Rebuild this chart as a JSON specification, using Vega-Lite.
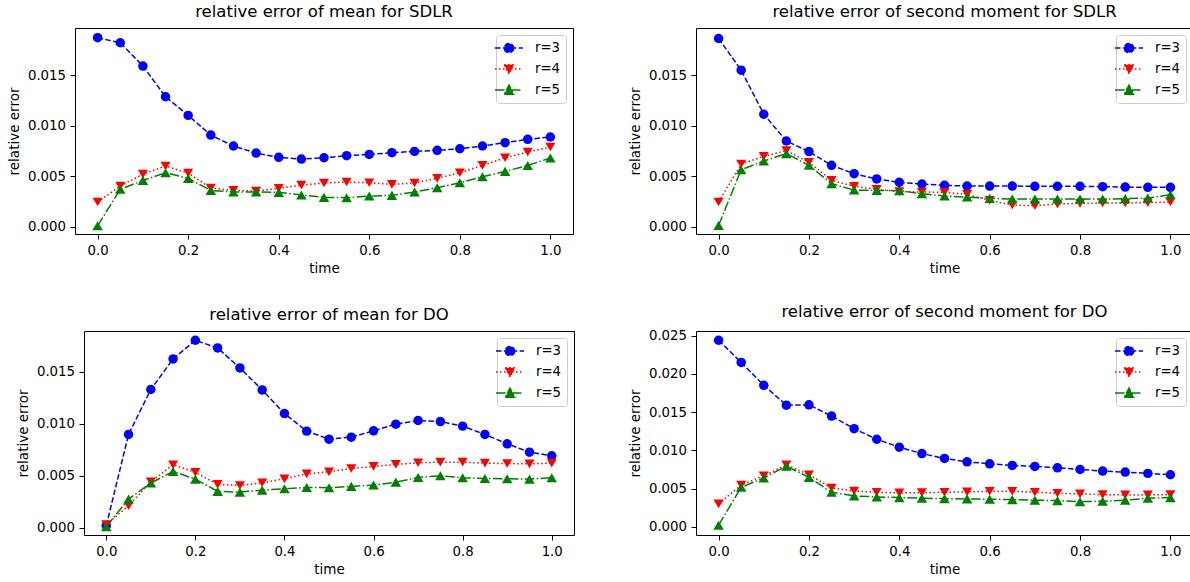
{
  "$schema": "https://vega.github.io/schema/vega-lite/v6.json",
  "background": "white",
  "padding": {"left": 6, "top": 3, "right": 0, "bottom": 0},
  "config": {
    "font": "DejaVu Sans",
    "view": {"stroke": "black", "strokeWidth": 1},
    "axis": {"domain": false, "grid": false, "ticks": true, "tickColor": "black", "tickSize": 5, "tickWidth": 1, "labelFontSize": 13.3, "labelColor": "black", "labelFont": "DejaVu Sans", "titleFont": "DejaVu Sans", "titleFontSize": 13.5, "titleFontWeight": "normal", "titleColor": "black", "labelPadding": 4.5},
    "axisX": {"titlePadding": 5},
    "axisY": {"titlePadding": 5.7},
    "title": {"fontSize": 16.5, "fontWeight": "normal", "color": "black", "font": "DejaVu Sans", "offset": 8, "baseline": "alphabetic"},
    "legend": {"title": null, "orient": "top-right", "offset": 7, "fillColor": "rgba(255,255,255,0.8)", "strokeColor": "#cccccc", "cornerRadius": 3, "padding": 5, "labelFontSize": 13.3, "labelFont": "DejaVu Sans", "labelColor": "black", "symbolSize": 196, "labelOffset": 18, "rowPadding": 5, "symbolStrokeWidth": 1.5}
  },
  "datasets": {
    "p1": [
      {"t":0,"r":"r=3","v":0.01869},{"t":0.05,"r":"r=3","v":0.01819},{"t":0.1,"r":"r=3","v":0.01589},{"t":0.15,"r":"r=3","v":0.01285},{"t":0.2,"r":"r=3","v":0.01101},{"t":0.25,"r":"r=3","v":0.00906},{"t":0.3,"r":"r=3","v":0.00798},{"t":0.35,"r":"r=3","v":0.00728},{"t":0.4,"r":"r=3","v":0.00686},{"t":0.45,"r":"r=3","v":0.00669},{"t":0.5,"r":"r=3","v":0.00682},{"t":0.55,"r":"r=3","v":0.00702},{"t":0.6,"r":"r=3","v":0.00715},{"t":0.65,"r":"r=3","v":0.00732},{"t":0.7,"r":"r=3","v":0.00745},{"t":0.75,"r":"r=3","v":0.00755},{"t":0.8,"r":"r=3","v":0.00771},{"t":0.85,"r":"r=3","v":0.00798},{"t":0.9,"r":"r=3","v":0.00831},{"t":0.95,"r":"r=3","v":0.00864},{"t":1,"r":"r=3","v":0.00887},
      {"t":0,"r":"r=4","v":0.00244},{"t":0.05,"r":"r=4","v":0.00402},{"t":0.1,"r":"r=4","v":0.0052},{"t":0.15,"r":"r=4","v":0.006},{"t":0.2,"r":"r=4","v":0.0053},{"t":0.25,"r":"r=4","v":0.00382},{"t":0.3,"r":"r=4","v":0.0036},{"t":0.35,"r":"r=4","v":0.00353},{"t":0.4,"r":"r=4","v":0.00379},{"t":0.45,"r":"r=4","v":0.00412},{"t":0.5,"r":"r=4","v":0.00432},{"t":0.55,"r":"r=4","v":0.00442},{"t":0.6,"r":"r=4","v":0.00435},{"t":0.65,"r":"r=4","v":0.00419},{"t":0.7,"r":"r=4","v":0.00432},{"t":0.75,"r":"r=4","v":0.00478},{"t":0.8,"r":"r=4","v":0.00534},{"t":0.85,"r":"r=4","v":0.00606},{"t":0.9,"r":"r=4","v":0.00682},{"t":0.95,"r":"r=4","v":0.00738},{"t":1,"r":"r=4","v":0.00788},
      {"t":0,"r":"r=5","v":0.0001},{"t":0.05,"r":"r=5","v":0.0037},{"t":0.1,"r":"r=5","v":0.00458},{"t":0.15,"r":"r=5","v":0.00534},{"t":0.2,"r":"r=5","v":0.00478},{"t":0.25,"r":"r=5","v":0.00359},{"t":0.3,"r":"r=5","v":0.00343},{"t":0.35,"r":"r=5","v":0.00343},{"t":0.4,"r":"r=5","v":0.0034},{"t":0.45,"r":"r=5","v":0.00313},{"t":0.5,"r":"r=5","v":0.0029},{"t":0.55,"r":"r=5","v":0.00287},{"t":0.6,"r":"r=5","v":0.00303},{"t":0.65,"r":"r=5","v":0.0031},{"t":0.7,"r":"r=5","v":0.00343},{"t":0.75,"r":"r=5","v":0.00386},{"t":0.8,"r":"r=5","v":0.00435},{"t":0.85,"r":"r=5","v":0.00494},{"t":0.9,"r":"r=5","v":0.00547},{"t":0.95,"r":"r=5","v":0.00606},{"t":1,"r":"r=5","v":0.00679}
    ],
    "p2": [
      {"t":0,"r":"r=3","v":0.01864},{"t":0.05,"r":"r=3","v":0.0155},{"t":0.1,"r":"r=3","v":0.01114},{"t":0.15,"r":"r=3","v":0.00849},{"t":0.2,"r":"r=3","v":0.00744},{"t":0.25,"r":"r=3","v":0.00608},{"t":0.3,"r":"r=3","v":0.00525},{"t":0.35,"r":"r=3","v":0.00473},{"t":0.4,"r":"r=3","v":0.0044},{"t":0.45,"r":"r=3","v":0.00423},{"t":0.5,"r":"r=3","v":0.0041},{"t":0.55,"r":"r=3","v":0.00403},{"t":0.6,"r":"r=3","v":0.00403},{"t":0.65,"r":"r=3","v":0.00403},{"t":0.7,"r":"r=3","v":0.004},{"t":0.75,"r":"r=3","v":0.004},{"t":0.8,"r":"r=3","v":0.004},{"t":0.85,"r":"r=3","v":0.00397},{"t":0.9,"r":"r=3","v":0.00393},{"t":0.95,"r":"r=3","v":0.0039},{"t":1,"r":"r=3","v":0.0039},
      {"t":0,"r":"r=4","v":0.00245},{"t":0.05,"r":"r=4","v":0.00621},{"t":0.1,"r":"r=4","v":0.00697},{"t":0.15,"r":"r=4","v":0.00753},{"t":0.2,"r":"r=4","v":0.00638},{"t":0.25,"r":"r=4","v":0.00459},{"t":0.3,"r":"r=4","v":0.004},{"t":0.35,"r":"r=4","v":0.0037},{"t":0.4,"r":"r=4","v":0.00347},{"t":0.45,"r":"r=4","v":0.00344},{"t":0.5,"r":"r=4","v":0.0034},{"t":0.55,"r":"r=4","v":0.0032},{"t":0.6,"r":"r=4","v":0.00261},{"t":0.65,"r":"r=4","v":0.00215},{"t":0.7,"r":"r=4","v":0.00208},{"t":0.75,"r":"r=4","v":0.00225},{"t":0.8,"r":"r=4","v":0.00231},{"t":0.85,"r":"r=4","v":0.00235},{"t":0.9,"r":"r=4","v":0.00235},{"t":0.95,"r":"r=4","v":0.00238},{"t":1,"r":"r=4","v":0.00245},
      {"t":0,"r":"r=5","v":0.00013},{"t":0.05,"r":"r=5","v":0.00565},{"t":0.1,"r":"r=5","v":0.00651},{"t":0.15,"r":"r=5","v":0.00724},{"t":0.2,"r":"r=5","v":0.00608},{"t":0.25,"r":"r=5","v":0.00426},{"t":0.3,"r":"r=5","v":0.00363},{"t":0.35,"r":"r=5","v":0.0036},{"t":0.4,"r":"r=5","v":0.00357},{"t":0.45,"r":"r=5","v":0.00327},{"t":0.5,"r":"r=5","v":0.00304},{"t":0.55,"r":"r=5","v":0.00294},{"t":0.6,"r":"r=5","v":0.00281},{"t":0.65,"r":"r=5","v":0.00274},{"t":0.7,"r":"r=5","v":0.00274},{"t":0.75,"r":"r=5","v":0.00274},{"t":0.8,"r":"r=5","v":0.00274},{"t":0.85,"r":"r=5","v":0.00274},{"t":0.9,"r":"r=5","v":0.00278},{"t":0.95,"r":"r=5","v":0.00284},{"t":1,"r":"r=5","v":0.00317}
    ],
    "p3": [
      {"t":0,"r":"r=3","v":0.0002},{"t":0.05,"r":"r=3","v":0.00896},{"t":0.1,"r":"r=3","v":0.01328},{"t":0.15,"r":"r=3","v":0.01622},{"t":0.2,"r":"r=3","v":0.01801},{"t":0.25,"r":"r=3","v":0.01727},{"t":0.3,"r":"r=3","v":0.01535},{"t":0.35,"r":"r=3","v":0.01324},{"t":0.4,"r":"r=3","v":0.01097},{"t":0.45,"r":"r=3","v":0.00928},{"t":0.5,"r":"r=3","v":0.00851},{"t":0.55,"r":"r=3","v":0.0087},{"t":0.6,"r":"r=3","v":0.00931},{"t":0.65,"r":"r=3","v":0.00995},{"t":0.7,"r":"r=3","v":0.0103},{"t":0.75,"r":"r=3","v":0.0102},{"t":0.8,"r":"r=3","v":0.00976},{"t":0.85,"r":"r=3","v":0.00896},{"t":0.9,"r":"r=3","v":0.00806},{"t":0.95,"r":"r=3","v":0.00726},{"t":1,"r":"r=3","v":0.00691},
      {"t":0,"r":"r=4","v":0.0003},{"t":0.05,"r":"r=4","v":0.00211},{"t":0.1,"r":"r=4","v":0.00441},{"t":0.15,"r":"r=4","v":0.00605},{"t":0.2,"r":"r=4","v":0.00531},{"t":0.25,"r":"r=4","v":0.00416},{"t":0.3,"r":"r=4","v":0.00406},{"t":0.35,"r":"r=4","v":0.00432},{"t":0.4,"r":"r=4","v":0.0047},{"t":0.45,"r":"r=4","v":0.00518},{"t":0.5,"r":"r=4","v":0.00537},{"t":0.55,"r":"r=4","v":0.00569},{"t":0.6,"r":"r=4","v":0.00589},{"t":0.65,"r":"r=4","v":0.00608},{"t":0.7,"r":"r=4","v":0.00624},{"t":0.75,"r":"r=4","v":0.0063},{"t":0.8,"r":"r=4","v":0.0063},{"t":0.85,"r":"r=4","v":0.0062},{"t":0.9,"r":"r=4","v":0.00617},{"t":0.95,"r":"r=4","v":0.00614},{"t":1,"r":"r=4","v":0.0062},
      {"t":0,"r":"r=5","v":0.0001},{"t":0.05,"r":"r=5","v":0.00275},{"t":0.1,"r":"r=5","v":0.00429},{"t":0.15,"r":"r=5","v":0.00541},{"t":0.2,"r":"r=5","v":0.00467},{"t":0.25,"r":"r=5","v":0.00349},{"t":0.3,"r":"r=5","v":0.00342},{"t":0.35,"r":"r=5","v":0.00361},{"t":0.4,"r":"r=5","v":0.00374},{"t":0.45,"r":"r=5","v":0.00387},{"t":0.5,"r":"r=5","v":0.00384},{"t":0.55,"r":"r=5","v":0.00397},{"t":0.6,"r":"r=5","v":0.0041},{"t":0.65,"r":"r=5","v":0.00438},{"t":0.7,"r":"r=5","v":0.00483},{"t":0.75,"r":"r=5","v":0.00499},{"t":0.8,"r":"r=5","v":0.0048},{"t":0.85,"r":"r=5","v":0.00473},{"t":0.9,"r":"r=5","v":0.0047},{"t":0.95,"r":"r=5","v":0.00467},{"t":1,"r":"r=5","v":0.0048}
    ],
    "p4": [
      {"t":0,"r":"r=3","v":0.02439},{"t":0.05,"r":"r=3","v":0.02149},{"t":0.1,"r":"r=3","v":0.0185},{"t":0.15,"r":"r=3","v":0.0159},{"t":0.2,"r":"r=3","v":0.01595},{"t":0.25,"r":"r=3","v":0.01447},{"t":0.3,"r":"r=3","v":0.01282},{"t":0.35,"r":"r=3","v":0.01144},{"t":0.4,"r":"r=3","v":0.0104},{"t":0.45,"r":"r=3","v":0.00957},{"t":0.5,"r":"r=3","v":0.00893},{"t":0.55,"r":"r=3","v":0.00849},{"t":0.6,"r":"r=3","v":0.00823},{"t":0.65,"r":"r=3","v":0.00802},{"t":0.7,"r":"r=3","v":0.00789},{"t":0.75,"r":"r=3","v":0.00771},{"t":0.8,"r":"r=3","v":0.0075},{"t":0.85,"r":"r=3","v":0.00728},{"t":0.9,"r":"r=3","v":0.00715},{"t":0.95,"r":"r=3","v":0.00698},{"t":1,"r":"r=3","v":0.0068},
      {"t":0,"r":"r=4","v":0.00299},{"t":0.05,"r":"r=4","v":0.00546},{"t":0.1,"r":"r=4","v":0.00667},{"t":0.15,"r":"r=4","v":0.0081},{"t":0.2,"r":"r=4","v":0.0068},{"t":0.25,"r":"r=4","v":0.00507},{"t":0.3,"r":"r=4","v":0.00468},{"t":0.35,"r":"r=4","v":0.00451},{"t":0.4,"r":"r=4","v":0.00442},{"t":0.45,"r":"r=4","v":0.00446},{"t":0.5,"r":"r=4","v":0.00451},{"t":0.55,"r":"r=4","v":0.00455},{"t":0.6,"r":"r=4","v":0.00464},{"t":0.65,"r":"r=4","v":0.00464},{"t":0.7,"r":"r=4","v":0.00451},{"t":0.75,"r":"r=4","v":0.00438},{"t":0.8,"r":"r=4","v":0.00429},{"t":0.85,"r":"r=4","v":0.0042},{"t":0.9,"r":"r=4","v":0.00416},{"t":0.95,"r":"r=4","v":0.00416},{"t":1,"r":"r=4","v":0.0042},
      {"t":0,"r":"r=5","v":0.0002},{"t":0.05,"r":"r=5","v":0.00516},{"t":0.1,"r":"r=5","v":0.00637},{"t":0.15,"r":"r=5","v":0.00793},{"t":0.2,"r":"r=5","v":0.00646},{"t":0.25,"r":"r=5","v":0.00451},{"t":0.3,"r":"r=5","v":0.00403},{"t":0.35,"r":"r=5","v":0.0039},{"t":0.4,"r":"r=5","v":0.00381},{"t":0.45,"r":"r=5","v":0.00373},{"t":0.5,"r":"r=5","v":0.00368},{"t":0.55,"r":"r=5","v":0.00364},{"t":0.6,"r":"r=5","v":0.0036},{"t":0.65,"r":"r=5","v":0.00355},{"t":0.7,"r":"r=5","v":0.00347},{"t":0.75,"r":"r=5","v":0.00342},{"t":0.8,"r":"r=5","v":0.00329},{"t":0.85,"r":"r=5","v":0.00334},{"t":0.9,"r":"r=5","v":0.00347},{"t":0.95,"r":"r=5","v":0.00373},{"t":1,"r":"r=5","v":0.00381}
    ]
  },
  "resolve": {"legend": {"color": "independent"}},
  "spacing": 27,
  "vconcat": [
    {
      "spacing": 0,
      "resolve": {"legend": {"color": "independent"}},
      "hconcat": [
        {"width": 1, "height": 1, "view": {"stroke": null}, "data": {"values": []}, "mark": "point"},
        {
          "spacing": 54,
          "resolve": {"legend": {"color": "independent"}},
          "hconcat": [
            {
              "title": "relative error of mean for SDLR",
              "width": 498, "height": 206,
              "data": {"name": "p1"},
              "encoding": {
                "x": {"field": "t", "type": "quantitative", "scale": {"domain": [-0.05, 1.05], "nice": false, "zero": false}, "axis": {"title": "time", "values": [0, 0.2, 0.4, 0.6, 0.8, 1], "format": ".1f"}},
                "y": {"field": "v", "type": "quantitative", "scale": {"domain": [-0.00072, 0.01965], "nice": false, "zero": false}, "axis": {"title": "relative error", "values": [0, 0.005, 0.01, 0.015], "format": ".3f"}},
                "color": {"field": "r", "type": "nominal", "scale": {"domain": ["r=3", "r=4", "r=5"], "range": ["#0000ff", "#ff0000", "#008000"]},
                  "legend": {"encode": {"symbols": {"update": {
                    "shape": {"signal": "datum.value === 'r=3' ? 'M-2,0H2M0.66,0A0.66,0.66,0,1,1,-0.66,0A0.66,0.66,0,1,1,0.66,0Z' : datum.value === 'r=4' ? 'M-2,0H2M-0.68,-0.62L0.68,-0.62L0,0.7Z' : 'M-2,0H2M-0.68,0.62L0.68,0.62L0,-0.7Z'"},
                    "strokeDash": {"signal": "datum.value === 'r=3' ? [5.5,2.4] : datum.value === 'r=4' ? [1.5,2.5] : [9.6,2.4,1.5,2.4]"},
                    "fill": {"signal": "datum.value === 'r=3' ? '#0000ff' : datum.value === 'r=4' ? '#ff0000' : '#008000'"},
                    "stroke": {"signal": "datum.value === 'r=3' ? '#0000ff' : datum.value === 'r=4' ? '#ff0000' : '#008000'"},
                    "fillOpacity": {"value": 1}, "opacity": {"value": 1}, "strokeWidth": {"value": 1.5}}}}}}
              },
              "layer": [
                {"mark": {"type": "line", "strokeWidth": 1.5}, "encoding": {"strokeDash": {"field": "r", "type": "nominal", "scale": {"domain": ["r=3", "r=4", "r=5"], "range": [[5.5, 2.4], [1.5, 2.5], [9.6, 2.4, 1.5, 2.4]]}, "legend": null}}},
                {"mark": {"type": "point", "filled": true, "opacity": 1}, "encoding": {"shape": {"field": "r", "type": "nominal", "scale": {"domain": ["r=3", "r=4", "r=5"], "range": ["circle", "triangle-down", "triangle-up"]}, "legend": null}, "size": {"field": "r", "type": "nominal", "scale": {"domain": ["r=3", "r=4", "r=5"], "range": [90, 110, 110]}, "legend": null}}}
              ]
            },
            {
              "title": "relative error of second moment for SDLR",
              "width": 497, "height": 206,
              "data": {"name": "p2"},
              "encoding": {
                "x": {"field": "t", "type": "quantitative", "scale": {"domain": [-0.05, 1.05], "nice": false, "zero": false}, "axis": {"title": "time", "values": [0, 0.2, 0.4, 0.6, 0.8, 1], "format": ".1f"}},
                "y": {"field": "v", "type": "quantitative", "scale": {"domain": [-0.00072, 0.01968], "nice": false, "zero": false}, "axis": {"title": "relative error", "values": [0, 0.005, 0.01, 0.015], "format": ".3f"}},
                "color": {"field": "r", "type": "nominal", "scale": {"domain": ["r=3", "r=4", "r=5"], "range": ["#0000ff", "#ff0000", "#008000"]},
                  "legend": {"encode": {"symbols": {"update": {
                    "shape": {"signal": "datum.value === 'r=3' ? 'M-2,0H2M0.66,0A0.66,0.66,0,1,1,-0.66,0A0.66,0.66,0,1,1,0.66,0Z' : datum.value === 'r=4' ? 'M-2,0H2M-0.68,-0.62L0.68,-0.62L0,0.7Z' : 'M-2,0H2M-0.68,0.62L0.68,0.62L0,-0.7Z'"},
                    "strokeDash": {"signal": "datum.value === 'r=3' ? [5.5,2.4] : datum.value === 'r=4' ? [1.5,2.5] : [9.6,2.4,1.5,2.4]"},
                    "fill": {"signal": "datum.value === 'r=3' ? '#0000ff' : datum.value === 'r=4' ? '#ff0000' : '#008000'"},
                    "stroke": {"signal": "datum.value === 'r=3' ? '#0000ff' : datum.value === 'r=4' ? '#ff0000' : '#008000'"},
                    "fillOpacity": {"value": 1}, "opacity": {"value": 1}, "strokeWidth": {"value": 1.5}}}}}}
              },
              "layer": [
                {"mark": {"type": "line", "strokeWidth": 1.5}, "encoding": {"strokeDash": {"field": "r", "type": "nominal", "scale": {"domain": ["r=3", "r=4", "r=5"], "range": [[5.5, 2.4], [1.5, 2.5], [9.6, 2.4, 1.5, 2.4]]}, "legend": null}}},
                {"mark": {"type": "point", "filled": true, "opacity": 1}, "encoding": {"shape": {"field": "r", "type": "nominal", "scale": {"domain": ["r=3", "r=4", "r=5"], "range": ["circle", "triangle-down", "triangle-up"]}, "legend": null}, "size": {"field": "r", "type": "nominal", "scale": {"domain": ["r=3", "r=4", "r=5"], "range": [90, 110, 110]}, "legend": null}}}
              ]
            }
          ]
        }
      ]
    },
    {
      "spacing": 0,
      "resolve": {"legend": {"color": "independent"}},
      "hconcat": [
        {"width": 10, "height": 1, "view": {"stroke": null}, "data": {"values": []}, "mark": "point"},
        {
          "spacing": 53,
          "resolve": {"legend": {"color": "independent"}},
          "hconcat": [
            {
              "title": "relative error of mean for DO",
              "width": 490, "height": 204,
              "data": {"name": "p3"},
              "encoding": {
                "x": {"field": "t", "type": "quantitative", "scale": {"domain": [-0.05, 1.05], "nice": false, "zero": false}, "axis": {"title": "time", "values": [0, 0.2, 0.4, 0.6, 0.8, 1], "format": ".1f"}},
                "y": {"field": "v", "type": "quantitative", "scale": {"domain": [-0.0007, 0.0189], "nice": false, "zero": false}, "axis": {"title": "relative error", "values": [0, 0.005, 0.01, 0.015], "format": ".3f"}},
                "color": {"field": "r", "type": "nominal", "scale": {"domain": ["r=3", "r=4", "r=5"], "range": ["#0000ff", "#ff0000", "#008000"]},
                  "legend": {"encode": {"symbols": {"update": {
                    "shape": {"signal": "datum.value === 'r=3' ? 'M-2,0H2M0.66,0A0.66,0.66,0,1,1,-0.66,0A0.66,0.66,0,1,1,0.66,0Z' : datum.value === 'r=4' ? 'M-2,0H2M-0.68,-0.62L0.68,-0.62L0,0.7Z' : 'M-2,0H2M-0.68,0.62L0.68,0.62L0,-0.7Z'"},
                    "strokeDash": {"signal": "datum.value === 'r=3' ? [5.5,2.4] : datum.value === 'r=4' ? [1.5,2.5] : [9.6,2.4,1.5,2.4]"},
                    "fill": {"signal": "datum.value === 'r=3' ? '#0000ff' : datum.value === 'r=4' ? '#ff0000' : '#008000'"},
                    "stroke": {"signal": "datum.value === 'r=3' ? '#0000ff' : datum.value === 'r=4' ? '#ff0000' : '#008000'"},
                    "fillOpacity": {"value": 1}, "opacity": {"value": 1}, "strokeWidth": {"value": 1.5}}}}}}
              },
              "layer": [
                {"mark": {"type": "line", "strokeWidth": 1.5}, "encoding": {"strokeDash": {"field": "r", "type": "nominal", "scale": {"domain": ["r=3", "r=4", "r=5"], "range": [[5.5, 2.4], [1.5, 2.5], [9.6, 2.4, 1.5, 2.4]]}, "legend": null}}},
                {"mark": {"type": "point", "filled": true, "opacity": 1}, "encoding": {"shape": {"field": "r", "type": "nominal", "scale": {"domain": ["r=3", "r=4", "r=5"], "range": ["circle", "triangle-down", "triangle-up"]}, "legend": null}, "size": {"field": "r", "type": "nominal", "scale": {"domain": ["r=3", "r=4", "r=5"], "range": [90, 110, 110]}, "legend": null}}}
              ]
            },
            {
              "title": "relative error of second moment for DO",
              "width": 497, "height": 204,
              "data": {"name": "p4"},
              "encoding": {
                "x": {"field": "t", "type": "quantitative", "scale": {"domain": [-0.05, 1.05], "nice": false, "zero": false}, "axis": {"title": "time", "values": [0, 0.2, 0.4, 0.6, 0.8, 1], "format": ".1f"}},
                "y": {"field": "v", "type": "quantitative", "scale": {"domain": [-0.00108, 0.0256], "nice": false, "zero": false}, "axis": {"title": "relative error", "values": [0, 0.005, 0.01, 0.015, 0.02, 0.025], "format": ".3f"}},
                "color": {"field": "r", "type": "nominal", "scale": {"domain": ["r=3", "r=4", "r=5"], "range": ["#0000ff", "#ff0000", "#008000"]},
                  "legend": {"encode": {"symbols": {"update": {
                    "shape": {"signal": "datum.value === 'r=3' ? 'M-2,0H2M0.66,0A0.66,0.66,0,1,1,-0.66,0A0.66,0.66,0,1,1,0.66,0Z' : datum.value === 'r=4' ? 'M-2,0H2M-0.68,-0.62L0.68,-0.62L0,0.7Z' : 'M-2,0H2M-0.68,0.62L0.68,0.62L0,-0.7Z'"},
                    "strokeDash": {"signal": "datum.value === 'r=3' ? [5.5,2.4] : datum.value === 'r=4' ? [1.5,2.5] : [9.6,2.4,1.5,2.4]"},
                    "fill": {"signal": "datum.value === 'r=3' ? '#0000ff' : datum.value === 'r=4' ? '#ff0000' : '#008000'"},
                    "stroke": {"signal": "datum.value === 'r=3' ? '#0000ff' : datum.value === 'r=4' ? '#ff0000' : '#008000'"},
                    "fillOpacity": {"value": 1}, "opacity": {"value": 1}, "strokeWidth": {"value": 1.5}}}}}}
              },
              "layer": [
                {"mark": {"type": "line", "strokeWidth": 1.5}, "encoding": {"strokeDash": {"field": "r", "type": "nominal", "scale": {"domain": ["r=3", "r=4", "r=5"], "range": [[5.5, 2.4], [1.5, 2.5], [9.6, 2.4, 1.5, 2.4]]}, "legend": null}}},
                {"mark": {"type": "point", "filled": true, "opacity": 1}, "encoding": {"shape": {"field": "r", "type": "nominal", "scale": {"domain": ["r=3", "r=4", "r=5"], "range": ["circle", "triangle-down", "triangle-up"]}, "legend": null}, "size": {"field": "r", "type": "nominal", "scale": {"domain": ["r=3", "r=4", "r=5"], "range": [90, 110, 110]}, "legend": null}}}
              ]
            }
          ]
        }
      ]
    }
  ]
}
